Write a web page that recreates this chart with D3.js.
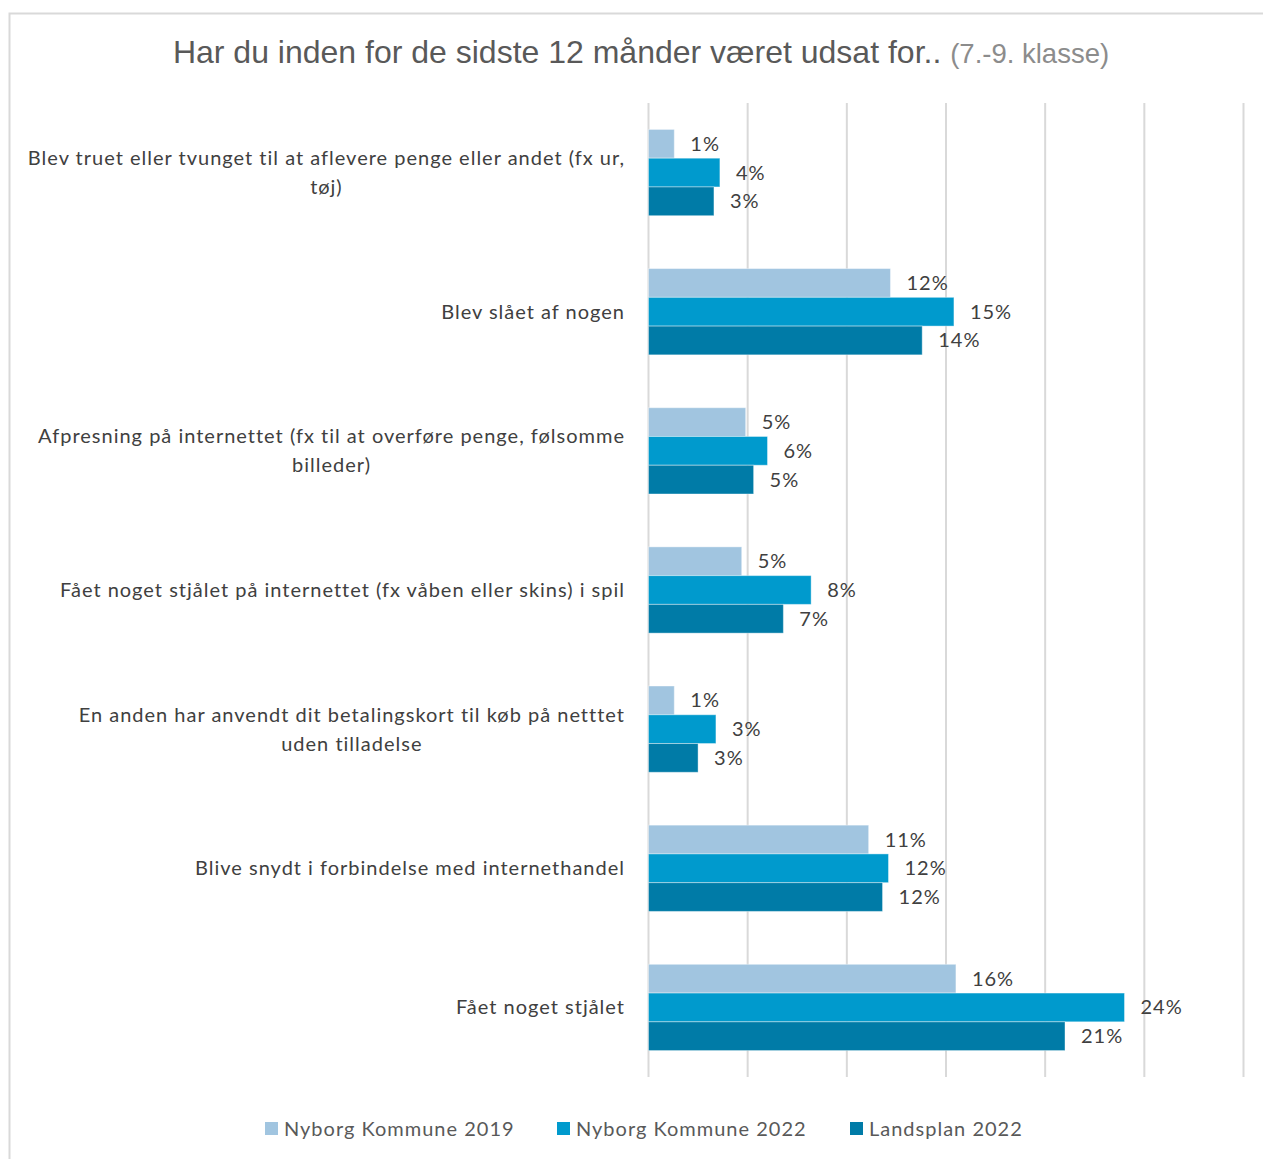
<!DOCTYPE html>
<html><head><meta charset="utf-8">
<script src="https://cdn.jsdelivr.net/npm/d3@7"></script>
<style>body{margin:0;background:#fff}svg{display:block}</style>
</head><body>
<script>
const categories = [
  ["Blev truet eller tvunget til at aflevere penge eller andet (fx ur,", "tøj)"],
  ["Blev slået af nogen"],
  ["Afpresning på internettet (fx til at overføre penge, følsomme", "billeder)"],
  ["Fået noget stjålet på internettet (fx våben eller skins) i spil"],
  ["En anden har anvendt dit betalingskort til køb på netttet", "uden tilladelse"],
  ["Blive snydt i forbindelse med internethandel"],
  ["Fået noget stjålet"]
];
const seriesNames = ["Nyborg Kommune 2019", "Nyborg Kommune 2022", "Landsplan 2022"];
const nyborg2019 = [0.013, 0.122, 0.049, 0.047, 0.013, 0.111, 0.155];
const nyborg2022 = [0.036, 0.154, 0.060, 0.082, 0.034, 0.121, 0.240];
const landsplan2022 = [0.033, 0.138, 0.053, 0.068, 0.025, 0.118, 0.210];
const xTicks = [0, 0.05, 0.10, 0.15, 0.20, 0.25, 0.30];
const colors = ["#a1c5e0", "#009acd", "#007ba7"];

const series = [nyborg2019, nyborg2022, landsplan2022];
const W = 1263, H = 1159;
const svg = d3.select("body").append("svg").attr("width", W).attr("height", H);
const font = "Lato, 'Open Sans', sans-serif";
const ls = "1px";

// outer border
svg.append("rect").attr("x", 9.5).attr("y", 13.5).attr("width", 1300).attr("height", 1200)
  .attr("fill", "none").attr("stroke", "#d9d9d9").attr("stroke-width", 2);

// title
const title = svg.append("text").attr("x", 641).attr("y", 63).attr("text-anchor", "middle")
  .attr("font-family", "'Liberation Sans', Arial, sans-serif");
title.append("tspan").attr("font-size", 32).attr("fill", "#595959").text("Har du inden for de sidste 12 månder været udsat for.. ");
title.append("tspan").attr("font-size", 27.5).attr("fill", "#8c8c8c").text("(7.-9. klasse)");

const x = d3.scaleLinear().domain([0, 0.30]).range([648.5, 1243.5]);
const y = d3.scaleBand().domain(d3.range(categories.length)).range([103, 1077]).paddingInner(0.38).paddingOuter(0.19);
const ySub = d3.scaleBand().domain(d3.range(series.length)).range([0, y.bandwidth()]);

// gridlines
svg.append("g").selectAll("line").data(xTicks).join("line")
  .attr("x1", d => x(d)).attr("x2", d => x(d)).attr("y1", 103).attr("y2", 1077)
  .attr("stroke", "#d9d9d9").attr("stroke-width", 2);

// bars
const fmt = d3.format(".0%");
series.forEach((vals, si) => {
  const g = svg.append("g");
  g.selectAll("rect").data(vals).join("rect")
    .attr("x", x(0)).attr("y", (d, i) => y(i) + ySub(si))
    .attr("width", d => x(d) - x(0)).attr("height", ySub.bandwidth())
    .attr("fill", colors[si]).attr("stroke", "#ffffff").attr("stroke-opacity", 0.4).attr("stroke-width", 1);
  g.selectAll("text").data(vals).join("text")
    .attr("x", d => x(d) + 16).attr("y", (d, i) => y(i) + ySub(si) + ySub.bandwidth() / 2)
    .attr("dy", "0.35em").attr("font-family", font).attr("font-size", 20).attr("letter-spacing", ls)
    .attr("fill", "#404040").text(d => fmt(d));
});

// category labels: block right-aligned at 625, lines centered within block
categories.forEach((lines, i) => {
  const cy = y(i) + y.bandwidth() / 2;
  const lh = 29;
  const t = svg.append("text").attr("text-anchor", "middle").attr("font-family", font)
    .attr("font-size", 20).attr("letter-spacing", ls).attr("fill", "#404040");
  const spans = lines.map((ln, j) => t.append("tspan")
    .attr("y", cy + (j - (lines.length - 1) / 2) * lh).attr("dy", "0.35em").text(ln));
  const maxW = d3.max(spans, s => s.node().getComputedTextLength());
  spans.forEach(s => s.attr("x", 625 - maxW / 2));
});

// legend
const legX = [265, 557, 850];
seriesNames.forEach((n, i) => {
  svg.append("rect").attr("x", legX[i]).attr("y", 1122).attr("width", 13).attr("height", 13).attr("fill", colors[i]);
  svg.append("text").attr("x", legX[i] + 19).attr("y", 1129).attr("dy", "0.35em")
    .attr("font-family", font).attr("font-size", 20).attr("letter-spacing", ls).attr("fill", "#595959").text(n);
});
</script>
</body></html>
